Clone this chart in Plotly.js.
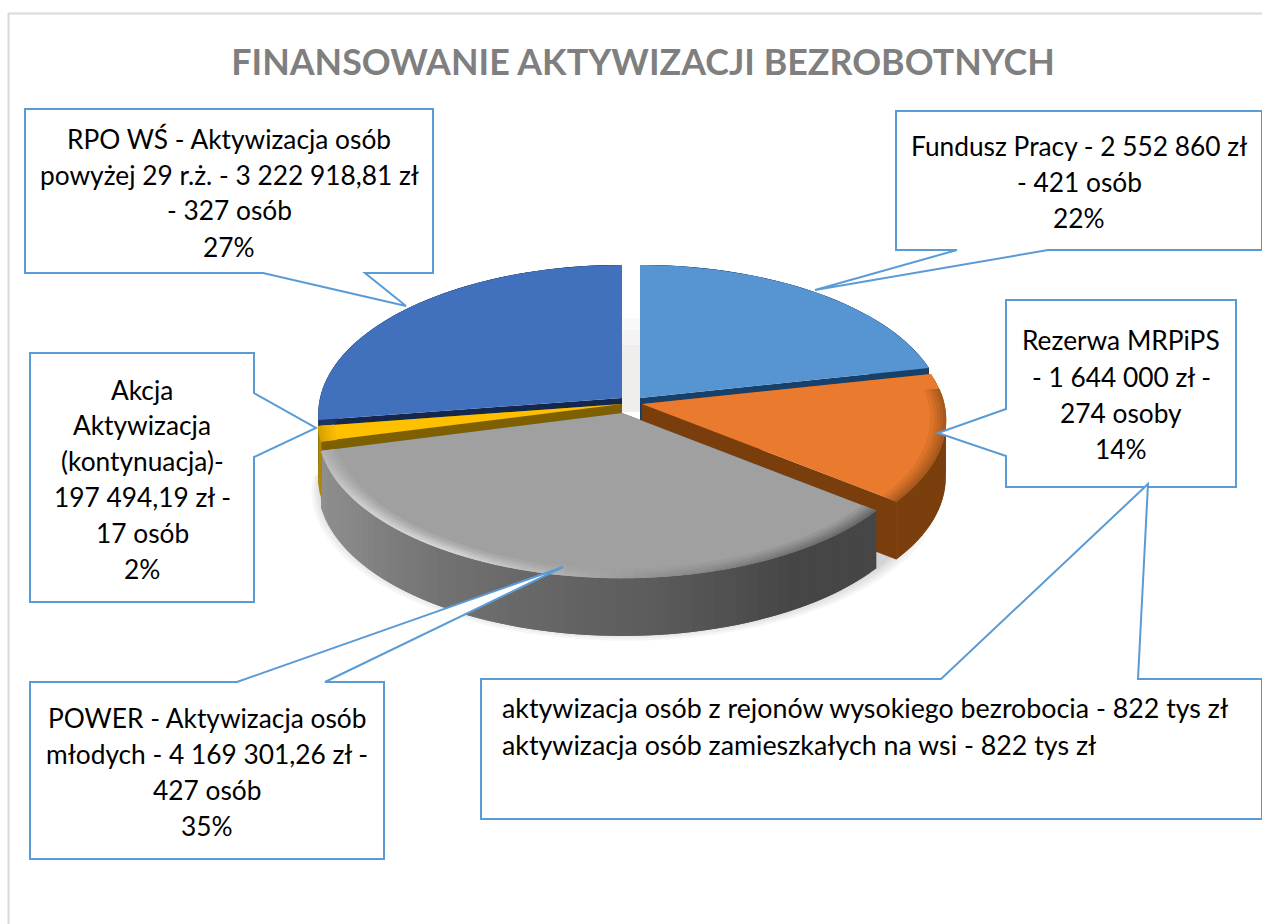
<!DOCTYPE html>
<html>
<head>
<meta charset="utf-8">
<script src="https://cdn.plot.ly/plotly-3.0.1.min.js"></script>
<style>html,body{margin:0;padding:0;background:#fff}#chart{width:1262px;height:924px}</style>
</head>
<body>
<div id="chart"></div>
<script>
// ---------- data ----------
const categories = ["Fundusz Pracy", "Rezerwa MRPiPS", "POWER", "Akcja Aktywizacja (kontynuacja)", "RPO WŚ"];
const amounts = [2552860, 1644000, 4169301.26, 197494.19, 3222918.81];
const chartTitle = "FINANSOWANIE AKTYWIZACJI BEZROBOTNYCH";
const linesRPO = ["RPO WŚ - Aktywizacja osób", "powyżej 29 r.ż. - 3 222 918,81 zł", "- 327 osób", "27%"];
const linesFundusz = ["Fundusz Pracy - 2 552 860 zł", "- 421 osób", "22%"];
const linesRezerwa = ["Rezerwa MRPiPS", "- 1 644 000 zł -", "274 osoby", "14%"];
const linesAkcja = ["Akcja", "Aktywizacja", "(kontynuacja)-", "197 494,19 zł -", "17 osób", "2%"];
const linesPower = ["POWER - Aktywizacja osób", "młodych - 4 169 301,26 zł -", "427 osób", "35%"];
const linesNote = ["aktywizacja osób z rejonów wysokiego bezrobocia - 822 tys zł", "aktywizacja osób zamieszkałych na wsi - 822 tys zł"];

// ---------- pie geometry / style (projected, exploded 3D disc) ----------
const RX = 302, RY = 147.3, PERSP = 0.107, DEPTH = 58;
const total = amounts.reduce((a, b) => a + b, 0);
const apex = [[640, 398], [642, 404], [622, 413], [622, 404], [622, 398]];
const topColor = ["#5694d2", "#ea7a2e", "#a0a0a0", "#ffc000", "#4170bd"];
const topRGB = [[0x56, 0x94, 0xd2], [0xea, 0x7a, 0x2e], [0xa0, 0xa0, 0xa0], [0xff, 0xc0, 0x00], [0x41, 0x70, 0xbd]];
const edgeRGB = [[0x56, 0x94, 0xd2], [0x9a, 0x52, 0x1a], [0xb8, 0xb8, 0xb8], [0xd0, 0x9c, 0x00], [0x41, 0x70, 0xbd]];
const radialWall = ["#17406a", "#7a3e0c", "#454545", "#7f6000", "#14284f"];
const outerWall = ["#17406a", "#7a3f0d", null, "#b08800", "#1d3560"];
// grey rim shades: [theta, wall shade, bevel shade]
const greyStops = [[128, 0x46, 0x5c], [150, 0x46, 0x6c], [175, 0x5c, 0x90], [190, 0x64, 0xb4], [210, 0x70, 0xe0], [235, 0x86, 0xd8], [256, 0x90, 0xb4]];
const BEVEL_STEPS = [0.99, 0.98, 0.97, 0.96, 0.95];

function proj(deg, r, a, drop) {
  const t = deg * Math.PI / 180, u = r * Math.sin(t), v = r * Math.cos(t), d = 1 + PERSP * v;
  return [a[0] + RX * u / d, a[1] - RY * v / d + (drop || 0)];
}
function poly(pts, color, lineW) {
  return {
    type: "scatter", mode: "lines", x: pts.map(p => p[0]), y: pts.map(p => p[1]),
    fill: "toself", fillcolor: color, line: {color: color, width: lineW === undefined ? 0 : lineW},
    hoverinfo: "skip", showlegend: false
  };
}
function range(a, b, n) { const o = []; for (let i = 0; i <= n; i++) o.push(a + (b - a) * i / n); return o; }
function greyAt(deg, idx) {
  const stops = greyStops;
  let s0 = stops[0], s1 = stops[stops.length - 1];
  for (let i = 0; i < stops.length - 1; i++) if (deg >= stops[i][0] && deg <= stops[i + 1][0]) { s0 = stops[i]; s1 = stops[i + 1]; }
  const f = Math.min(1, Math.max(0, (deg - s0[0]) / Math.max(1e-6, s1[0] - s0[0])));
  return s0[idx] + (s1[idx] - s0[idx]) * f;
}
function rgb(c) { return "rgb(" + c.map(Math.round).join(",") + ")"; }

const traces = [];
// soft ground shadow
[18, 14, 10, 6, 3].forEach(s => {
  const pts = range(90, 270, 80).map(d => {
    const p = proj(d, 1, [626, 408], DEPTH + s * 0.55);
    return [p[0] + Math.sin(d * Math.PI / 180) * s * 0.6, p[1]];
  });
  traces.push(poly(pts, "rgba(0,0,0,0.035)"));
});
// faint shadow seen through the gap between the two rear slices
[318, 330, 345].forEach(y => traces.push(poly([[622, y], [640, y], [640, 412], [622, 412]], "rgba(90,60,60,0.03)")));

const spans = [];
let run = 0;
amounts.forEach(v => { const s = run; run += v / total * 360; spans.push([s, run]); });

[4, 0, 3, 1, 2].forEach(i => {
  const [a0, a1] = spans[i], a = apex[i];
  [a0, a1].forEach(th => {
    const rim = proj(th, 1, a), low = proj(th, 1, a, DEPTH), cLow = [a[0], a[1] + DEPTH];
    traces.push(poly([a, rim, low, cLow], radialWall[i]));
  });
  const n = Math.max(4, Math.round((a1 - a0) / 2));
  const ths = range(a0, a1, n);
  // outer wall: overlapping strips so that no seams show
  for (let k = 0; k < n; k++) {
    const end = ths[Math.min(n, k + 2)];
    const p = [proj(ths[k], 1, a), proj((ths[k] + end) / 2, 1, a), proj(end, 1, a),
               proj(end, 1, a, DEPTH), proj((ths[k] + end) / 2, 1, a, DEPTH), proj(ths[k], 1, a, DEPTH)];
    const m = (ths[k] + ths[k + 1]) / 2;
    const c = i === 2 ? rgb([greyAt(m, 1), greyAt(m, 1), greyAt(m, 1)]) : outerWall[i];
    traces.push(poly(p, c));
  }
  // top surface
  const arc = range(a0, a1, 60).map(d => proj(d, 1, a));
  traces.push(poly([a].concat(arc), topColor[i]));
  // bevel along the front rim: rings from the outside in, blending to the top colour
  if (i === 1 || i === 2 || i === 3) {
    BEVEL_STEPS.forEach((r, ri) => {
      const w = (ri + 1) / (BEVEL_STEPS.length + 1);
      for (let k = 0; k < n; k++) {
        const m = (ths[k] + ths[k + 1]) / 2;
        if (i === 1 && m < 85) continue;
        const end = ths[Math.min(n, k + 2)];
        const rOut = r + 0.012;
        const p = [proj(ths[k], rOut, a), proj(end, rOut, a), proj(end, r, a), proj(ths[k], r, a)];
        const e = i === 2 ? [greyAt(m, 2), greyAt(m, 2), greyAt(m, 2)] : edgeRGB[i];
        traces.push(poly(p, rgb(e.map((v, q) => v + (topRGB[i][q] - v) * w))));
      }
    });
  }
});

// ---------- callouts ----------
const stroke = "#5b9bd5";
function pathOf(pts) { return "M" + pts.map(p => p.join(",")).join("L") + "Z"; }
const calloutShapes = [
  [[25, 109], [433, 109], [433, 273], [365, 273], [406, 306], [263, 273], [25, 273]],
  [[896, 111], [1262, 111], [1262, 250], [1048, 250], [815, 290], [957, 250], [896, 250]],
  [[1006, 300], [1236, 300], [1236, 487], [1006, 487], [1006, 456], [938, 433], [1006, 409]],
  [[30, 353], [254, 353], [254, 393], [316, 428], [254, 457], [254, 602], [30, 602]],
  [[30, 682], [237, 682], [563, 567], [325, 682], [384, 682], [384, 859], [30, 859]],
  [[481, 679], [941, 679], [1148, 484], [1138, 679], [1262, 679], [1262, 819], [481, 819]]
].map(pts => ({
  type: "path", xref: "x", yref: "y", path: pathOf(pts), layer: "above",
  fillcolor: "#ffffff", line: {color: stroke, width: 2}
}));
const frame = [
  {type: "line", xref: "x", yref: "y", x0: 8.5, x1: 8.5, y0: 13, y1: 924, line: {color: "#d9d9d9", width: 2}},
  {type: "line", xref: "x", yref: "y", x0: 8, x1: 1262, y0: 13.5, y1: 13.5, line: {color: "#d9d9d9", width: 2}}
];

const FONT = "Lato, Carlito, Calibri, sans-serif";
const SIZE = 26.3;
function label(text, x, y, align, size) {
  return {text: text, x: x, y: y, xref: "x", yref: "y", showarrow: false,
    xanchor: align || "center", yanchor: "middle", font: {family: FONT, size: size || SIZE, color: "#000000"}};
}
const annotations = [];
function block(lines, x, ys, align, size) { lines.forEach((t, i) => annotations.push(label(t, x, ys[i], align, size))); }
block(linesRPO, 229, [139, 175, 210, 247]);
block(linesFundusz, 1079, [146, 182, 218]);
block(linesRezerwa, 1121, [340, 377, 413, 449]);
block(linesAkcja, 142, [390, 425, 461, 497, 533, 569]);
block(linesPower, 207, [718, 754, 790, 826]);
block(linesNote, 500, [708, 745], "left", 26.8);

Plotly.newPlot("chart", traces, {
  width: 1262, height: 924, autosize: false,
  margin: {l: 0, r: 0, t: 0, b: 0}, paper_bgcolor: "#ffffff", plot_bgcolor: "#ffffff",
  showlegend: false, hovermode: false,
  title: {text: "<b>" + chartTitle + "</b>", x: 643 / 1262, xanchor: "center", xref: "paper",
    y: 1 - 62 / 924, yanchor: "middle", yref: "paper", font: {family: FONT, size: 35.8, color: "#7f7f7f"}},
  xaxis: {range: [0, 1262], visible: false, fixedrange: true},
  yaxis: {range: [924, 0], visible: false, fixedrange: true},
  shapes: frame.concat(calloutShapes),
  annotations: annotations
}, {staticPlot: true, displayModeBar: false});
</script>
</body>
</html>
